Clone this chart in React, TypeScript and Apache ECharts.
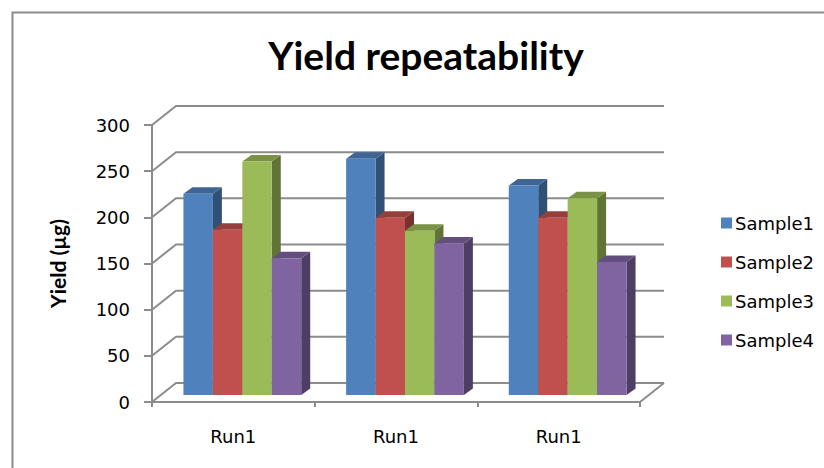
import React, { useEffect, useRef } from "react";
import * as echarts from "echarts";

// Chart data
const categories = ["Run1", "Run1", "Run1"];
const sampleNames = ["Sample1", "Sample2", "Sample3", "Sample4"];
const sample1 = [218, 256, 227];
const sample2 = [179, 192, 192];
const sample3 = [253, 178, 213];
const sample4 = [148, 164, 144];
const sampleValues = [sample1, sample2, sample3, sample4];
const sampleColors = ["#4F81BD", "#C0504D", "#9BBB59", "#8064A2"];
const yMin = 0;
const yMax = 300;
const yStep = 50;
const yTicks = [0, 50, 100, 150, 200, 250, 300];

// Fake-3D geometry: wall depth and the bars' place inside it
const WALL_DX = 24;
const WALL_DY = -19;
const BAR_SHIFT_X = 9;
const BAR_SHIFT_Y = -7;
const BAR_DX = 9;
const BAR_DY = -6.5;
const BAR_FRACTION = 0.181;
const GRID_COLOR = "#8c8c8c";

function shade(hex: string, f: number): string {
  const n = parseInt(hex.slice(1), 16);
  const r = Math.round(((n >> 16) & 255) * f);
  const g = Math.round(((n >> 8) & 255) * f);
  const b = Math.round((n & 255) * f);
  return `rgb(${r},${g},${b})`;
}

export default function App() {
  const ref = useRef<HTMLDivElement>(null);

  useEffect(() => {
    if (!ref.current) return;
    const chart = echarts.init(ref.current, undefined, { renderer: "svg" });

    const wallSeries: any = {
      type: "custom",
      name: "walls",
      z: 1,
      silent: true,
      data: yTicks.map((v) => [0, v]),
      renderItem: (params: any, api: any) => {
        const cs = params.coordSys;
        const y = api.coord([0, api.value(1)])[1];
        const left = cs.x;
        const right = cs.x + cs.width;
        const children: any[] = [
          {
            type: "polyline",
            shape: {
              points: [
                [left, y],
                [left + WALL_DX, y + WALL_DY],
                [right + WALL_DX, y + WALL_DY],
              ],
            },
            style: { stroke: GRID_COLOR, lineWidth: 2, fill: "none" },
          },
        ];
        if (api.value(1) === 0) {
          children.push({
            type: "line",
            shape: { x1: right, y1: y, x2: right + WALL_DX, y2: y + WALL_DY },
            style: { stroke: GRID_COLOR, lineWidth: 2 },
          });
        }
        return { type: "group", children };
      },
    };

    const barSeries: any[] = sampleNames.map((name, idx) => ({
      type: "custom",
      name,
      z: 2,
      itemStyle: { color: sampleColors[idx] },
      data: sampleValues[idx].map((v, i) => [i, v]),
      renderItem: (params: any, api: any) => {
        const cat = api.value(0);
        const val = api.value(1);
        const base = api.coord([cat, 0]);
        const top = api.coord([cat, val]);
        const catW = api.size([1, 0])[0];
        const barW = catW * BAR_FRACTION;
        const x = base[0] - 2 * barW + idx * barW + BAR_SHIFT_X;
        const yb = base[1] + BAR_SHIFT_Y;
        const yt = top[1] + BAR_SHIFT_Y;
        const color = sampleColors[idx];
        return {
          type: "group",
          children: [
            {
              type: "polygon",
              shape: {
                points: [
                  [x + barW, yt],
                  [x + barW + BAR_DX, yt + BAR_DY],
                  [x + barW + BAR_DX, yb + BAR_DY],
                  [x + barW, yb],
                ],
              },
              style: { fill: shade(color, 0.62) },
            },
            {
              type: "polygon",
              shape: {
                points: [
                  [x, yt],
                  [x + barW, yt],
                  [x + barW + BAR_DX, yt + BAR_DY],
                  [x + BAR_DX, yt + BAR_DY],
                ],
              },
              style: { fill: shade(color, 0.78) },
            },
            {
              type: "rect",
              shape: { x, y: yt, width: barW, height: yb - yt },
              style: { fill: color },
            },
          ],
        };
      },
    }));

    chart.setOption({
      animation: false,
      backgroundColor: "#ffffff",
      title: {
        text: "Yield repeatability",
        left: 421,
        top: 30,
        textAlign: "center",
        textStyle: {
          fontFamily: "Lato",
          fontWeight: "bold",
          fontSize: 39,
          color: "#000000",
        },
      },
      legend: {
        orient: "vertical",
        left: 716,
        top: 209,
        icon: "rect",
        itemWidth: 11,
        itemHeight: 11,
        itemGap: 21,
        data: sampleNames,
        textStyle: {
          fontFamily: "DejaVu Sans",
          fontSize: 18,
          lineHeight: 18,
          color: "#000000",
          padding: [0, 0, 0, -2],
        },
      },
      graphic: [
        {
          type: "rect",
          left: 10,
          top: 10,
          shape: { width: 900, height: 600 },
          style: { fill: "none", stroke: GRID_COLOR, lineWidth: 2 },
          silent: true,
        },
      ],
      grid: { left: 152, right: 184, top: 125, bottom: 66 },
      xAxis: {
        type: "category",
        data: categories,
        axisLine: { show: true, lineStyle: { color: GRID_COLOR, width: 2 } },
        axisTick: { show: true, length: 5, lineStyle: { color: GRID_COLOR, width: 2 } },
        axisLabel: {
          margin: 25,
          fontFamily: "DejaVu Sans",
          fontSize: 18,
          color: "#000000",
        },
        splitLine: { show: false },
      },
      yAxis: {
        type: "value",
        min: yMin,
        max: yMax,
        interval: yStep,
        name: "Yield (µg)",
        nameLocation: "middle",
        nameGap: 84,
        nameRotate: 90,
        nameTextStyle: {
          fontFamily: "Lato",
          fontWeight: "bold",
          fontSize: 21,
          color: "#000000",
        },
        axisLine: { show: true, lineStyle: { color: GRID_COLOR, width: 2 } },
        axisTick: { show: true, length: 8, lineStyle: { color: GRID_COLOR, width: 2 } },
        axisLabel: {
          margin: 22,
          fontFamily: "DejaVu Sans",
          fontSize: 18,
          color: "#000000",
        },
        splitLine: { show: false },
      },
      series: [wallSeries, ...barSeries],
    });

    return () => chart.dispose();
  }, []);

  return (
    <div
      ref={ref}
      style={{ position: "absolute", left: 0, top: 0, width: 824, height: 468 }}
    />
  );
}
